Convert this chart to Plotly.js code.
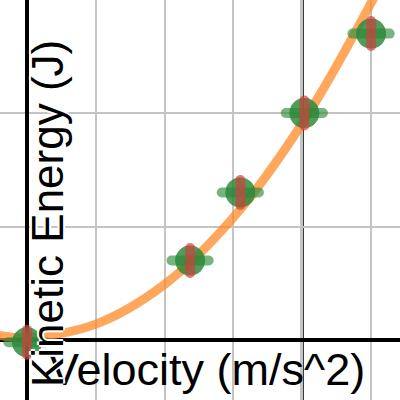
<!DOCTYPE html>
<html>
<head>
<meta charset="utf-8">
<script src="https://cdn.plot.ly/plotly-3.0.1.min.js"></script>
<style>
html,body{margin:0;padding:0;background:#fff;}
#chart{width:400px;height:400px;}
.js-line{stroke-linecap:round;}
</style>
</head>
<body>
<div id="chart"></div>
<script>
const velocity = [0.0, 2.37, 3.10, 4.03, 5.0];
const kineticEnergy = [-0.02, 0.70, 1.30, 2.0, 2.70];
const velocityErr = [0.27, 0.27, 0.27, 0.27, 0.27];
const energyErr = [0.11, 0.11, 0.11, 0.11, 0.11];

// Fitted curve
const fitX = [-0.4, 0, 1, 2, 3, 4, 5, 5.45];
const fitY = [0.04, 0.02, 0.14, 0.49, 1.08, 1.91, 2.97, 3.52];

const xTitle = "Velocity (m/s^2)";
const yTitle = "Kinetic Energy (J)";

// build error segments from the data arrays
const hx = [], hy = [], vx = [], vy = [];
for (let i = 0; i < velocity.length; i++) {
  hx.push(velocity[i] - velocityErr[i], velocity[i] + velocityErr[i], null);
  hy.push(kineticEnergy[i], kineticEnergy[i], null);
  vx.push(velocity[i], velocity[i], null);
  vy.push(kineticEnergy[i] - energyErr[i], kineticEnergy[i] + energyErr[i], null);
}

const traces = [
  {x: fitX, y: fitY, mode: 'lines', line: {color: 'rgba(255,135,30,0.72)', width: 9, shape: 'spline'}, hoverinfo: 'skip'},
  {x: hx, y: hy, mode: 'lines', line: {color: 'rgba(45,140,60,0.65)', width: 10}, hoverinfo: 'skip'},
  {x: velocity, y: kineticEnergy, mode: 'markers', marker: {size: 30, color: 'rgba(40,135,55,0.82)', line: {width: 0}}},
  {x: vx, y: vy, mode: 'lines', line: {color: 'rgba(205,65,60,0.7)', width: 10}, hoverinfo: 'skip'}
];

const fontFamily = 'Liberation Sans, Arial, sans-serif';

const layout = {
  width: 400, height: 400,
  margin: {l: 0, r: 0, t: 0, b: 0},
  paper_bgcolor: '#fff', plot_bgcolor: '#fff',
  showlegend: false,
  xaxis: {range: [-0.392, 5.42], dtick: 1, tick0: 0, showticklabels: false, ticks: '',
          showgrid: true, gridcolor: '#c4c4c4', gridwidth: 2,
          zeroline: true, zerolinecolor: '#000', zerolinewidth: 4},
  yaxis: {range: [-0.529, 2.996], dtick: 1, tick0: 0, showticklabels: false, ticks: '',
          showgrid: true, gridcolor: '#c4c4c4', gridwidth: 2,
          zeroline: true, zerolinecolor: '#000', zerolinewidth: 4},
  shapes: [{type: 'line', xref: 'x', yref: 'paper', x0: 4, x1: 4, y0: 0, y1: 1,
            line: {color: '#000', width: 3}, layer: 'below'}],
  annotations: [
    {text: xTitle, xref: 'paper', yref: 'paper', x: 207/400, y: 1 - 369/400,
     xanchor: 'center', yanchor: 'middle', showarrow: false,
     font: {family: fontFamily, size: 45, color: '#000'}},
    {text: yTitle, xref: 'paper', yref: 'paper', x: 47/400, y: 1 - 214/400, textangle: -90,
     xanchor: 'center', yanchor: 'middle', showarrow: false,
     font: {family: fontFamily, size: 44, color: '#000', shadow: '2px 0 0 #fff, -2px 0 0 #fff, 0 2px 0 #fff, 0 -2px 0 #fff'}}
  ]
};

Plotly.newPlot('chart', traces, layout, {displayModeBar: false, staticPlot: true});
</script>
</body>
</html>
